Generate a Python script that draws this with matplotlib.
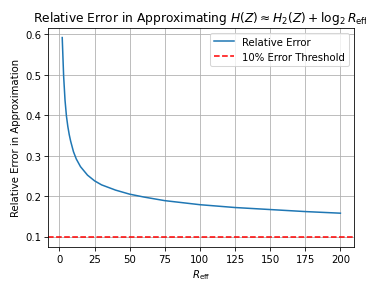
import matplotlib
matplotlib.use("Agg")
import matplotlib.pyplot as plt

r_eff = [2, 3, 4, 5, 6, 7, 8, 10, 12, 15, 20, 25, 30, 40, 50, 60, 75, 100, 125, 150, 175, 200]
rel_error = [0.592, 0.497, 0.437, 0.398, 0.372, 0.352, 0.336, 0.310, 0.292, 0.273, 0.252,
             0.238, 0.228, 0.215, 0.205, 0.198, 0.189, 0.179, 0.172, 0.167, 0.162, 0.158]
threshold = 0.1

fig, ax = plt.subplots(figsize=(5, 4), dpi=73.2)
ax.plot(r_eff, rel_error, label="Relative Error")
ax.axhline(threshold, color="r", linestyle="--", label="10% Error Threshold")
ax.set_xlabel(r"$R_{\rm eff}$")
ax.set_ylabel("Relative Error in Approximation")
ax.set_title(r"Relative Error in Approximating $H(Z) \approx H_2(Z) + \log_2 R_{\rm eff}$")
ax.legend()
ax.grid(True)
fig.subplots_adjust(left=0.132, right=0.968, top=0.903, bottom=0.155)
fig.savefig("out.png", dpi=73.2)
